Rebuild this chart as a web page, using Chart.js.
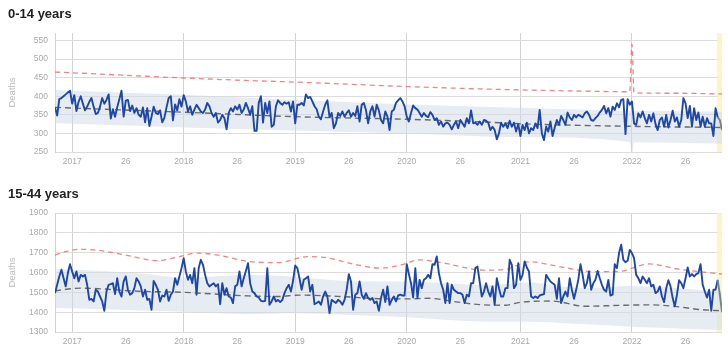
<!DOCTYPE html>
<html><head><meta charset="utf-8">
<script src="https://cdn.jsdelivr.net/npm/chart.js@4.4.1/dist/chart.umd.min.js"></script>
<style>
html,body{margin:0;padding:0;background:#fff;}
body{width:728px;height:356px;position:relative;overflow:hidden;font-family:"Liberation Sans",Arial,sans-serif;}
.panel{position:absolute;left:0;width:728px;}
.title{position:absolute;left:8px;top:6px;font-weight:bold;font-size:13px;color:#222;line-height:16px;}
canvas{position:absolute;left:0;top:0;}
</style></head><body>
<div class="panel" style="top:0;height:180px"><canvas id="c1" width="728" height="180"></canvas><div class="title">0-14 years</div></div>
<div class="panel" style="top:180px;height:176px"><canvas id="c2" width="728" height="176"></canvas><div class="title">15-44 years</div></div>
<script>
// ---- weeks (index 0 = 2016 week 45, last = 2022 week 43) ----
const weekCount = 312;
const weekIndex = Array.from({length: weekCount}, (_, i) => i);
const xTickWeeks  = [8, 33, 60, 85, 112, 137, 164, 189, 217, 242, 269, 294];
const xTickLabels = ['2017','26','2018','26','2019','26','2020','26','2021','26','2022','26'];
const highlightFromWeek = 308.6;

// ---- 0-14 years ----
const deaths0to14 = [
370,348,392,395,400,405,410,415,380,403,360,385,400,380,362,372,385,395,372,352,355,372,395,380,390,405,340,365,345,370,392,415,
345,388,390,360,375,355,368,350,345,370,330,368,320,345,372,355,352,362,330,342,370,395,400,335,378,362,392,372,403,
386,359,373,350,364,377,368,359,355,364,382,373,355,345,355,329,336,350,341,311,355,368,359,373,364,377,355,364,382,368,350,373,307,307,382,400,329,382,355,386,318,323,373,389,
382,377,384,380,384,359,386,327,377,377,382,375,405,395,398,386,373,365,345,338,359,377,389,344,355,314,327,355,347,359,
345,355,362,345,355,347,373,332,377,382,362,327,359,373,345,377,362,336,327,359,345,309,359,364,382,389,395,386,373,345,
332,355,375,368,364,355,345,355,347,344,357,350,336,341,323,332,318,327,329,323,311,323,332,314,336,327,318,341,327,362,
327,329,323,332,323,336,334,329,309,318,309,284,300,329,
318,327,314,334,318,329,305,325,293,323,309,329,300,314,309,327,314,363,300,282,318,305,332,293,316,336,323,347,336,323,
356,343,336,350,343,350,347,343,354,359,350,336,334,341,347,356,363,374,354,368,345,372,363,381,370,390,392,298,392,377,
386,327,323,354,343,359,341,327,350,332,354,325,309,336,343,318,350,316,336,361,332,343,318,336,395,381,341,374,318,368,
336,356,318,345,318,341,327,327,293,368,343,336,309
];
const baseline0to14Weeks = [0, 60, 112, 164, 199, 217, 269, 311];
const baseline0to14 = [370, 357, 345, 338, 331, 326, 319, 316];
const band0to14Weeks = [0, 60, 112, 164, 217, 268, 269, 270, 311];
const band0to14Upper = [416, 404, 390, 378, 369, 361, 361, 361, 358];
const band0to14Lower = [327, 316, 308, 300, 290, 277, 230, 276, 272];
const threshold0to14Weeks = [0, 8, 34, 60, 86, 112, 138, 164, 190, 217, 243, 268, 269, 270, 290, 311];
const threshold0to14 = [465, 463, 456, 449, 443, 438, 432, 426, 421, 417, 414, 412, 540, 409, 408, 406];
const yTicks0to14 = [250, 300, 350, 400, 450, 500, 550];

// ---- 15-44 years ----
const deaths15to44 = [
1496,1538,1580,1614,1571,1530,1597,1642,1605,
1571,1605,1555,1588,1580,1588,1538,1462,1467,1454,1513,1504,1479,1454,1407,1504,1538,1541,1546,1491,1571,1504,1479,1555,1580,
1513,1488,1496,1521,1571,1555,1530,1479,1513,1462,1467,1412,1558,1538,1513,
1454,1484,1479,1513,1457,1488,
1504,1571,1538,1580,1622,1672,1605,1563,1588,1546,1622,1488,1622,1664,1639,1588,1546,1530,1538,1546,1530,1541,1440,1546,
1488,1521,1479,
1474,1446,1530,1538,1605,1530,1571,1608,1647,1546,1504,1496,1479,1474,
1457,1454,1457,1622,1437,1454,1479,1454,1462,
1451,1462,
1496,1521,1538,1504,1558,1635,1622,1571,1513,1563,1571,1580,1504,
1538,1440,1446,1454,1437,1479,1504,1479,1395,1462,1454,1446,1462,1454,1437,1462,1513,1592,1555,1412,1488,1496,1555,1488,1467,1496,
1471,1462,1471,1446,1454,1407,1471,1513,1451,1530,1437,1462,
1479,1454,1484,1488,1484,1484,1642,1592,1546,1474,1622,1471,1563,1521,1563,
1571,1588,1571,1642,1639,1681,1597,1546,1513,1446,1546,1446,1538,1513,1504,1496,
1496,1488,1446,1488,1479,1546,1546,1622,1630,1555,1479,1504,1546,
1504,1479,1530,
1437,1571,1521,1479,
1479,1521,
1521,1664,1639,1521,1538,1647,1563,1588,1656,1625,1605,1479,1471,1479,1471,1484,
1488,1491,1588,1571,1555,1546,1538,1467,1571,1446,
1479,1504,1479,1571,1513,1467,1513,1563,1642,1588,1521,1546,1605,1513,1546,1563,1608,1571,1538,1513,
1504,1563,1484,1488,1642,1622,1698,1740,1664,1652,1659,1714,1698,1672,1588,1571,1546,1580,
1563,1546,1571,1530,
1538,1496,1504,1530,1479,1451,1521,1561,1530,
1471,1429,1488,1561,1546,1521,1571,1625,1580,1592,1580,1592,1597,1642,1538,1504,1474,1513,1407,1513,
1513,1563,1488,1400
];
const baseline15to44Weeks = [0,12,40,60,90,104,114,135,151,165,174,187,198,210,217,232,247,263,277,289,301,311];
const baseline15to44 = [1508,1521,1505,1500,1482,1479,1486,1478,1468,1467,1470,1452,1438,1435,1450,1456,1430,1434,1437,1429,1413,1407];
const band15to44Weeks = [0,12,40,60,90,112,138,164,202,221,246,269,311];
const band15to44Upper = [1616,1612,1595,1575,1588,1579,1556,1554,1537,1549,1520,1532,1503];
const band15to44Lower = [1422,1418,1408,1402,1390,1394,1386,1374,1352,1352,1340,1327,1310];
const threshold15to44Weeks = [0,6,12,20,32,48,58,66,76,90,104,118,128,140,152,162,170,180,200,210,221,235,250,262,277,290,311];
const threshold15to44 = [1688,1708,1717,1712,1690,1660,1680,1698,1688,1656,1650,1680,1672,1640,1622,1640,1664,1650,1612,1616,1654,1630,1605,1604,1643,1618,1592];
const yTicks15to44 = [1300, 1400, 1500, 1600, 1700, 1800, 1900];

// ---- drawing ----
const zip = (xs, ys) => xs.map((x, i) => ({x: x, y: ys[i]}));
Chart.defaults.font.family = '"Liberation Sans", Arial, sans-serif';

const highlightPlugin = {
  id: 'highlight',
  beforeDatasetsDraw(chart) {
    const {ctx, chartArea, scales} = chart;
    const x0 = scales.x.getPixelForValue(highlightFromWeek);
    ctx.save();
    ctx.fillStyle = 'rgba(253,243,190,0.85)';
    ctx.fillRect(x0, chartArea.top, chartArea.right - x0, chartArea.bottom - chartArea.top);
    ctx.restore();
  }
};

function makeChart(id, canvasH, series, base, baseW, up, low, bandW, thr, thrW, yTicks, yMin, yMax) {
  new Chart(document.getElementById(id), {
    type: 'line',
    data: {
      labels: weekIndex,
      datasets: [
        {data: series, borderColor: '#1e47a6', borderWidth: 1.9, pointRadius: 0, tension: 0, fill: false, order: 0,
         borderJoinStyle: 'round',
         segment: {borderColor: c => c.p0DataIndex >= 309 ? '#6e8787' : undefined}},
        {data: zip(baseW, base), borderColor: '#6b6b6b', borderWidth: 1.4, borderDash: [6, 4], pointRadius: 0,
         cubicInterpolationMode: 'monotone', fill: false, order: 1},
        {data: zip(thrW, thr), borderColor: 'rgba(238,110,110,0.85)', borderWidth: 1.3, borderDash: [5, 4], pointRadius: 0,
         cubicInterpolationMode: 'monotone', fill: false, order: 2},
        {data: zip(bandW, up), borderWidth: 0, borderColor: 'rgba(0,0,0,0)', pointRadius: 0,
         cubicInterpolationMode: 'monotone', fill: false, order: 4},
        {data: zip(bandW, low), borderWidth: 0, borderColor: 'rgba(0,0,0,0)', pointRadius: 0,
         cubicInterpolationMode: 'monotone', fill: '-1', backgroundColor: 'rgba(205,218,230,0.5)', order: 3}
      ]
    },
    options: {
      responsive: false, animation: false, devicePixelRatio: 1,
      layout: {padding: {top: 33, right: 6, left: 0, bottom: canvasH - 152 - 20}},
      plugins: {legend: {display: false}, tooltip: {enabled: false}},
      scales: {
        x: {
          type: 'linear', min: 0, max: weekCount - 1,
          afterBuildTicks: s => { s.ticks = xTickWeeks.map(v => ({value: v})); },
          afterFit: s => { s.height = 20; },
          ticks: {autoSkip: false, maxRotation: 0, padding: 5, color: '#a9a9a9', font: {size: 8.5},
                  callback: (v, i) => xTickLabels[i]},
          grid: {drawTicks: false, color: c => (c.index % 2 === 0) ? '#d2d2d2' : 'rgba(0,0,0,0)'},
          border: {display: false}
        },
        y: {
          min: yMin, max: yMax,
          afterBuildTicks: s => { s.ticks = yTicks.map(v => ({value: v})); },
          afterFit: s => { s.width = 55; },
          ticks: {padding: 7, color: '#a9a9a9', font: {size: 8.5}, callback: v => String(v)},
          grid: {drawTicks: false, color: '#dcdcdc'},
          border: {display: true, color: '#d2d2d2'},
          title: {display: true, text: 'Deaths', color: '#bbbbbb', font: {size: 9.5}, padding: {top: 7, bottom: 0}}
        }
      }
    },
    plugins: [highlightPlugin]
  });
}

makeChart('c1', 180, deaths0to14, baseline0to14, baseline0to14Weeks, band0to14Upper, band0to14Lower, band0to14Weeks,
          threshold0to14, threshold0to14Weeks, yTicks0to14, 250, 570);
makeChart('c2', 176, deaths15to44, baseline15to44, baseline15to44Weeks, band15to44Upper, band15to44Lower, band15to44Weeks,
          threshold15to44, threshold15to44Weeks, yTicks15to44, 1300, 1900);
</script>
</body></html>
